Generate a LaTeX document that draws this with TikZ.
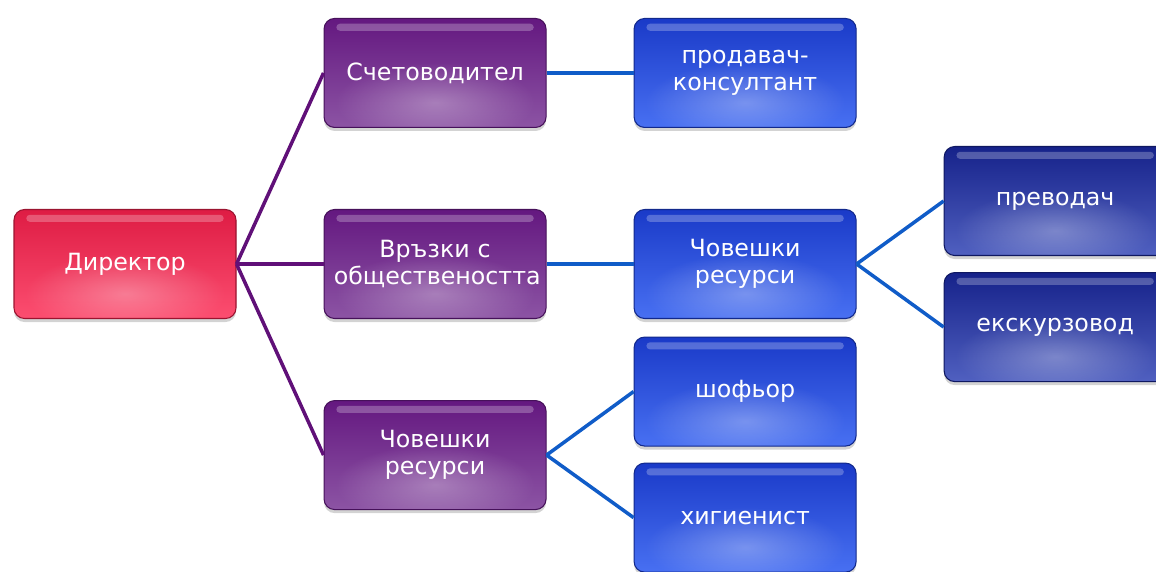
\documentclass[tikz,border=0pt]{standalone}
\usepackage{fontspec}
\setmainfont{DejaVu Sans}
\usetikzlibrary{positioning, shadows, fadings}
\tikzfading[name=glow, inner color=transparent!0, outer color=transparent!100]
\definecolor{dirtop}{RGB}{222,28,68}
\definecolor{dirbot}{RGB}{252,78,112}
\definecolor{purtop}{RGB}{100,24,128}
\definecolor{purbot}{RGB}{140,84,164}
\definecolor{blutop}{RGB}{26,58,200}
\definecolor{blubot}{RGB}{72,112,242}
\definecolor{navtop}{RGB}{22,34,138}
\definecolor{navbot}{RGB}{80,96,192}
\definecolor{purline}{RGB}{96,16,120}
\definecolor{bluline}{RGB}{16,92,200}
\tikzstyle{box}     = [rectangle, rounded corners=6pt, minimum width=4.44cm, minimum height=2.18cm,
                       text width=4.05cm, align=center, text=white, font=\fontsize{13.5}{15.5}\selectfont,
                       line width=0.6pt,
                       drop shadow={opacity=0.35, shadow xshift=0pt, shadow yshift=-2pt},
                       path picture={
                         \fill[white, opacity=0.25, rounded corners=2pt]
                           ([xshift=7pt, yshift=-3pt]path picture bounding box.north west)
                           rectangle ([xshift=-7pt, yshift=-7pt]path picture bounding box.north east);
                         \fill[white, opacity=0.3, path fading=glow]
                           ([yshift=0.5cm]path picture bounding box.south) ellipse (2cm and 0.8cm);
                       }]
\tikzstyle{dirbox}  = [box, top color=dirtop, bottom color=dirbot, draw=dirtop!70!black]
\tikzstyle{purbox}  = [box, top color=purtop, bottom color=purbot, draw=purtop!70!black]
\tikzstyle{blubox}  = [box, top color=blutop, bottom color=blubot, draw=blutop!70!black]
\tikzstyle{navbox}  = [box, top color=navtop, bottom color=navbot, draw=navtop!70!black]
\tikzstyle{pline}   = [line width=2pt, draw=purline]
\tikzstyle{bline}   = [line width=2pt, draw=bluline]

\begin{document}
\begin{tikzpicture}[node distance=1.74cm]
      \clip (0,0) rectangle (23.12,-11.42);

      \node (dir) [dirbox] at (2.5,-5.28) {Директор};

      \node (p2)  [purbox, right=of dir]        {Връзки с обществеността};
      \node (p1)  [purbox, above=1.62cm of p2]  {Счетоводител};
      \node (p3)  [purbox, below=1.62cm of p2]  {Човешки ресурси};

      \node (b1)  [blubox, right=of p1] {продавач-\\консултант};
      \node (b2)  [blubox, right=of p2] {Човешки ресурси};
      \node (b3)  [blubox, right=of p3, yshift=1.27cm] {шофьор};
      \node (b4)  [blubox, below=0.32cm of b3]        {хигиенист};

      \node (d1)  [navbox, right=of b2, yshift=1.26cm] {преводач};
      \node (d2)  [navbox, below=0.32cm of d1]        {екскурзовод};

      \draw [pline] (dir.east) -- (p1.west);
      \draw [pline] (dir.east) -- (p2.west);
      \draw [pline] (dir.east) -- (p3.west);

      \draw [bline] (p1.east) -- (b1.west);
      \draw [bline] (p2.east) -- (b2.west);
      \draw [bline] (p3.east) -- (b3.west);
      \draw [bline] (p3.east) -- (b4.west);

      \draw [bline] (b2.east) -- (d1.west);
      \draw [bline] (b2.east) -- (d2.west);

    \end{tikzpicture}
\end{document}
